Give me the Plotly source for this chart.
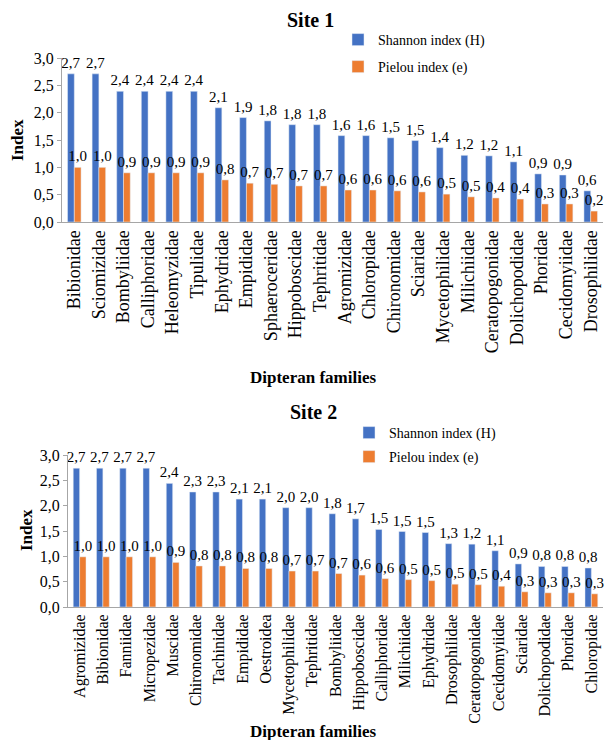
import plotly.graph_objects as go

# ---------------- Data ----------------
site1_families = ["Bibionidae", "Sciomizidae", "Bombyliidae", "Calliphoridae", "Heleomyzidae",
                  "Tipulidae", "Ephydridae", "Empididae", "Sphaeroceridae", "Hippoboscidae",
                  "Tephritidae", "Agromizidae", "Chloropidae", "Chironomidae", "Sciaridae",
                  "Mycetophilidae", "Milichiidae", "Ceratopogonidae", "Dolichopodidae",
                  "Phoridae", "Cecidomyiidae", "Drosophilidae"]
site1_shannon = [2.71, 2.71, 2.39, 2.39, 2.39, 2.39, 2.09, 1.91, 1.85, 1.78, 1.78,
                 1.58, 1.58, 1.54, 1.49, 1.36, 1.22, 1.21, 1.10, 0.88, 0.86, 0.57]
site1_pielou = [1.00, 1.00, 0.90, 0.90, 0.90, 0.90, 0.77, 0.71, 0.69, 0.66, 0.66,
                0.585, 0.585, 0.57, 0.55, 0.51, 0.46, 0.44, 0.42, 0.33, 0.33, 0.20]
site1_shannon_labels = ["2,7", "2,7", "2,4", "2,4", "2,4", "2,4", "2,1", "1,9", "1,8", "1,8", "1,8",
                        "1,6", "1,6", "1,5", "1,5", "1,4", "1,2", "1,2", "1,1", "0,9", "0,9", "0,6"]
site1_pielou_labels = ["1,0", "1,0", "0,9", "0,9", "0,9", "0,9", "0,8", "0,7", "0,7", "0,7", "0,7",
                       "0,6", "0,6", "0,6", "0,6", "0,5", "0,5", "0,4", "0,4", "0,3", "0,3", "0,2"]

site2_families = ["Agromizidae", "Bibionidae", "Fanniidae", "Micropezidae", "Muscidae",
                  "Chironomidae", "Tachinidae", "Empididae", "Oestroidea", "Mycetophilidae",
                  "Tephritidae", "Bombyliidae", "Hippoboscidae", "Calliphoridae", "Milichiidae",
                  "Ephydridae", "Drosophilidae", "Ceratopogonidae", "Cecidomyiidae", "Sciaridae",
                  "Dolichopodidae", "Phoridae", "Chloropidae"]
site2_shannon = [2.74, 2.74, 2.74, 2.74, 2.44, 2.27, 2.27, 2.13, 2.13, 1.96, 1.96, 1.84,
                 1.74, 1.53, 1.49, 1.47, 1.25, 1.24, 1.11, 0.85, 0.80, 0.80, 0.77]
site2_pielou = [0.99, 0.99, 0.99, 0.99, 0.88, 0.81, 0.81, 0.76, 0.76, 0.71, 0.71, 0.66,
                0.63, 0.56, 0.54, 0.52, 0.45, 0.44, 0.41, 0.30, 0.28, 0.28, 0.26]
site2_shannon_labels = ["2,7", "2,7", "2,7", "2,7", "2,4", "2,3", "2,3", "2,1", "2,1", "2,0", "2,0", "1,8",
                        "1,7", "1,5", "1,5", "1,5", "1,3", "1,2", "1,1", "0,9", "0,8", "0,8", "0,8"]
site2_pielou_labels = ["1,0", "1,0", "1,0", "1,0", "0,9", "0,8", "0,8", "0,8", "0,8", "0,7", "0,7", "0,7",
                       "0,6", "0,6", "0,5", "0,5", "0,5", "0,5", "0,4", "0,3", "0,3", "0,3", "0,3"]

series_names = ["Shannon index (H)", "Pielou index (e)"]
y_ticks = [0, 0.5, 1.0, 1.5, 2.0, 2.5, 3.0]

# ---------------- Styling ----------------
W, H = 612, 740
BLUE = "#4472C4"
ORANGE = "#ED7D31"
SERIF = "Liberation Serif"
AXIS_GREY = "#a6a6a6"


def px_x(p):
    return p / W


def px_y(p):
    return 1 - p / H


fig = go.Figure()


def add_pair(fams, sh, pi, shl, pil, xa, ya, leg_a, leg_b):
    fig.add_trace(go.Bar(x=fams, y=sh, name=series_names[0], marker_color=BLUE,
                         text=shl, textposition="outside", cliponaxis=False,
                         constraintext="none",
                         textfont=dict(family=SERIF, size=15, color="black"),
                         xaxis=xa, yaxis=ya, legend=leg_a))
    fig.add_trace(go.Bar(x=fams, y=pi, name=series_names[1], marker_color=ORANGE,
                         text=pil, textposition="outside", cliponaxis=False,
                         constraintext="none",
                         textfont=dict(family=SERIF, size=15, color="black"),
                         xaxis=xa, yaxis=ya, legend=leg_b))


add_pair(site1_families, site1_shannon, site1_pielou, site1_shannon_labels, site1_pielou_labels,
         "x", "y", "legend", "legend2")
add_pair(site2_families, site2_shannon, site2_pielou, site2_shannon_labels, site2_pielou_labels,
         "x2", "y2", "legend3", "legend4")


def xaxis_style(fs):
    return dict(type="category", showline=True, linecolor=AXIS_GREY, linewidth=1,
                ticks="", tickangle=-90, automargin=False,
                tickfont=dict(family=SERIF, size=fs, color="black"),
                showgrid=False, zeroline=False)


yaxis_common = dict(range=[0, 3.0], tickvals=y_ticks, tickformat=".1f",
                    showline=True, linecolor=AXIS_GREY, linewidth=1,
                    ticks="outside", ticklen=4, tickcolor=AXIS_GREY, automargin=False,
                    tickfont=dict(family=SERIF, size=16, color="black"),
                    showgrid=False, zeroline=False)

legend_common = dict(orientation="v", xanchor="left", yanchor="middle",
                     font=dict(family=SERIF, size=14, color="black"),
                     bgcolor="rgba(0,0,0,0)", itemwidth=30, tracegroupgap=0)

fig.update_layout(
    width=W, height=H,
    font=dict(family=SERIF, color="black"),
    margin=dict(l=0, r=0, t=0, b=0),
    paper_bgcolor="white", plot_bgcolor="white",
    separators=", ",
    barmode="group", bargap=0.45, bargroupgap=0.0,
    xaxis=dict(domain=[px_x(62), px_x(603)], anchor="y", **xaxis_style(18)),
    yaxis=dict(domain=[px_y(222), px_y(58)], anchor="x", **yaxis_common),
    xaxis2=dict(domain=[px_x(68), px_x(603)], anchor="y2", **xaxis_style(16)),
    yaxis2=dict(domain=[px_y(607), px_y(455)], anchor="x2", **yaxis_common),
    legend=dict(x=px_x(338), y=px_y(40), **legend_common),
    legend2=dict(x=px_x(338), y=px_y(67), **legend_common),
    legend3=dict(x=px_x(349), y=px_y(433), **legend_common),
    legend4=dict(x=px_x(349), y=px_y(457), **legend_common),
    showlegend=True,
)

annotations = [
    dict(text="<b>Site 1</b>", x=px_x(310), y=px_y(20)),
    dict(text="<b>Site 2</b>", x=px_x(313), y=px_y(412)),
]
for a in annotations:
    a.update(xref="paper", yref="paper", showarrow=False, xanchor="center", yanchor="middle",
             font=dict(family=SERIF, size=20, color="black"))

titles = [
    dict(text="<b>Dipteran families</b>", x=px_x(313), y=px_y(377), textangle=0),
    dict(text="<b>Dipteran families</b>", x=px_x(313), y=px_y(731), textangle=0),
    dict(text="<b>Index</b>", x=px_x(17), y=px_y(140), textangle=-90),
    dict(text="<b>Index</b>", x=px_x(26), y=px_y(530), textangle=-90),
]
for t in titles:
    t.update(xref="paper", yref="paper", showarrow=False, xanchor="center", yanchor="middle",
             font=dict(family=SERIF, size=17, color="black"))

fig.update_layout(annotations=annotations + titles)

fig.write_html("out.html",
               config={"displayModeBar": False},
               post_script="document.body.style.margin='0';document.body.style.padding='0';")
